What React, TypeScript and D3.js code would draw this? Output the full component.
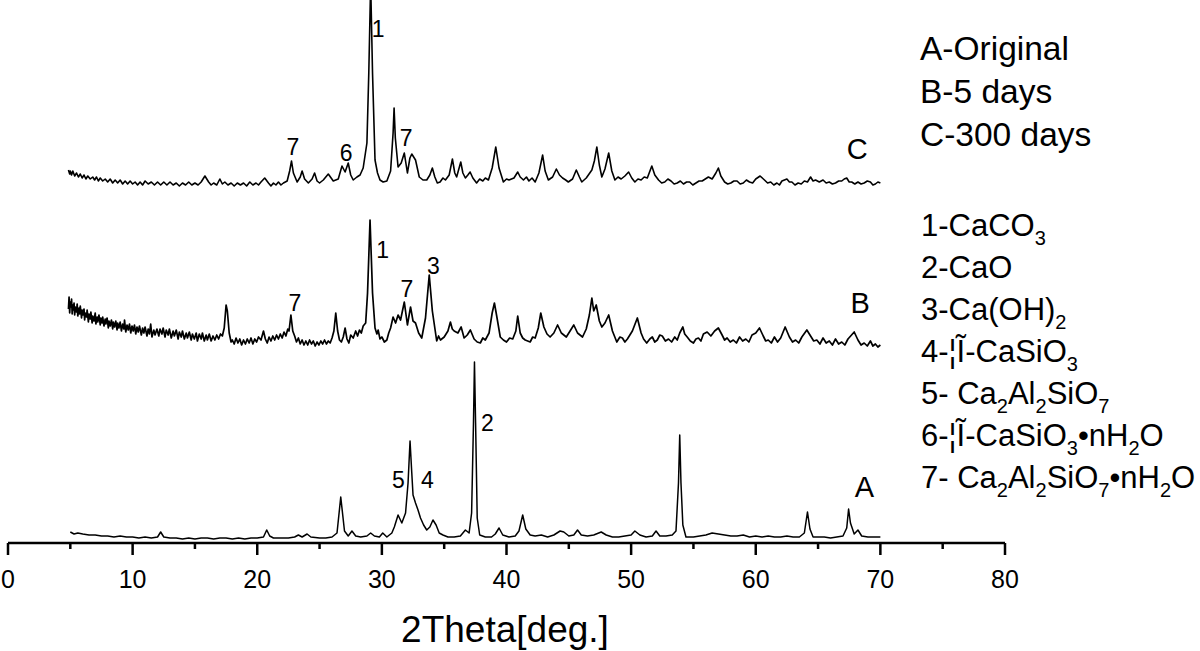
import React from 'react';
import * as d3 from 'd3';

// 2Theta (deg) vs intensity (a.u., stacked offsets already included)
const seriesA: [number, number][] = [
  [5.0, 11], [5.3, 9], [5.6, 10], [6.0, 9], [6.5, 8], [7.0, 8], [7.5, 7], [8.0, 7], [8.5, 6], [9.0, 7],
  [9.5, 6], [10.0, 6], [10.5, 5], [11.0, 6], [11.5, 5], [12.0, 6], [12.25, 11], [12.5, 6], [13.0, 5], [13.5, 5],
  [14, 4], [14.5, 5], [15, 4], [15.5, 5], [16, 5], [16.5, 4], [17, 5], [17.5, 5], [18, 4], [18.5, 5],
  [19, 4], [19.5, 5], [20.0, 5], [20.5, 6], [20.76, 13], [21.0, 7], [21.3, 5], [22, 5], [22.5, 5], [23.0, 6],
  [23.3, 8], [23.6, 6], [24.0, 9], [24.3, 6], [25, 5], [25.5, 5], [26.0, 6], [26.4, 10], [26.7, 46], [27.0, 12],
  [27.3, 7], [27.6, 12], [27.9, 7], [28.3, 6], [28.8, 7], [29.1, 10], [29.4, 7], [29.8, 6], [30.07, 10], [30.4, 6],
  [30.8, 10], [31.0, 16], [31.3, 28], [31.6, 20], [31.9, 30], [32.1, 60], [32.26, 102], [32.4, 70], [32.5, 48], [32.7, 40],
  [32.9, 33], [33.1, 25], [33.35, 18], [33.6, 13], [33.85, 16], [34.1, 23], [34.35, 18], [34.6, 10], [34.9, 8], [35.3, 6],
  [35.8, 6], [36.3, 7], [36.7, 13], [37.0, 10], [37.2, 30], [37.35, 120], [37.43, 181], [37.52, 120], [37.65, 25], [37.85, 8],
  [38.3, 6], [38.8, 6], [39.1, 9], [39.4, 15], [39.7, 8], [40.2, 6], [40.7, 7], [41.0, 12], [41.3, 28], [41.55, 14],
  [41.9, 8], [42.3, 7], [42.8, 8], [43.3, 6], [43.8, 8], [44.3, 12], [44.6, 11], [45.0, 7], [45.4, 8], [45.7, 13],
  [46.0, 8], [46.5, 7], [47.0, 8], [47.6, 11], [48.0, 8], [48.5, 6], [49.0, 6], [49.5, 7], [50.0, 8], [50.3, 12],
  [50.7, 8], [51.2, 6], [51.7, 7], [52.0, 12], [52.3, 7], [52.8, 7], [53.3, 8], [53.6, 12], [53.8, 60], [53.9, 108],
  [54.0, 60], [54.15, 18], [54.4, 6], [55.0, 6], [55.5, 7], [56.0, 8], [56.5, 10], [57.0, 9], [57.5, 8], [58.0, 7],
  [58.5, 7], [59.0, 8], [59.5, 6], [60.0, 7], [60.5, 6], [61.0, 7], [61.5, 6], [62.0, 6], [62.5, 7], [63.0, 6],
  [63.5, 6], [63.9, 10], [64.15, 31], [64.35, 14], [64.6, 6], [65.0, 6], [65.5, 6], [66.0, 5], [66.5, 6], [67.0, 7],
  [67.3, 15], [67.45, 34], [67.6, 20], [67.9, 9], [68.2, 13], [68.5, 7], [69.0, 6], [69.5, 6], [70.0, 6],
];

const seriesB: [number, number][] = [
  [4.85, 234], [4.9, 246], [4.95, 230], [5.0, 241], [5.05, 236], [5.1, 244], [5.15, 229], [5.2, 238], [5.25, 233], [5.3, 240],
  [5.35, 228], [5.4, 236], [5.5, 231], [5.55, 239], [5.6, 227], [5.7, 235], [5.75, 229], [5.8, 237], [5.9, 225], [5.95, 233],
  [6.0, 228], [6.1, 234], [6.15, 223], [6.2, 230], [6.3, 226], [6.35, 233], [6.45, 221], [6.5, 229], [6.6, 224], [6.65, 231],
  [6.75, 220], [6.8, 227], [6.9, 222], [7.0, 230], [7.05, 219], [7.15, 226], [7.2, 221], [7.3, 228], [7.4, 218], [7.45, 225],
  [7.55, 220], [7.6, 226], [7.7, 217], [7.8, 224], [7.85, 219], [7.95, 225], [8.05, 215], [8.1, 222], [8.2, 217], [8.3, 223],
  [8.4, 214], [8.45, 221], [8.55, 216], [8.65, 222], [8.75, 213], [8.8, 220], [8.9, 215], [9.0, 221], [9.1, 212], [9.2, 219],
  [9.3, 214], [9.35, 223], [9.45, 211], [9.55, 218], [9.65, 213], [9.75, 219], [9.85, 210], [9.95, 217], [10.05, 212], [10.15, 218],
  [10.25, 209], [10.35, 216], [10.45, 211], [10.55, 217], [10.7, 208], [10.8, 215], [10.9, 210], [11.0, 216], [11.15, 207], [11.25, 214],
  [11.35, 209], [11.45, 219], [11.55, 206], [11.7, 213], [11.8, 208], [11.95, 214], [12.1, 207], [12.2, 214], [12.35, 209], [12.45, 215],
  [12.6, 206], [12.7, 213], [12.85, 208], [12.95, 214], [13.1, 205], [13.25, 212], [13.35, 207], [13.5, 213], [13.65, 204], [13.75, 211],
  [13.9, 206], [14.0, 212], [14.15, 204], [14.3, 210], [14.4, 205], [14.55, 211], [14.7, 203], [14.8, 209], [14.95, 204], [15.1, 210],
  [15.2, 202], [15.35, 209], [15.5, 204], [15.6, 210], [15.75, 202], [15.9, 208], [16.0, 203], [16.15, 209], [16.3, 202], [16.45, 207],
  [16.6, 203], [16.75, 208], [16.9, 204], [17.05, 209], [17.2, 207], [17.35, 215], [17.5, 238], [17.6, 232], [17.75, 210], [17.9, 201],
  [18.0, 203], [18.15, 199], [18.3, 205], [18.45, 200], [18.6, 204], [18.75, 198], [18.9, 203], [19.05, 199], [19.2, 204], [19.35, 200],
  [19.5, 205], [19.65, 199], [19.8, 204], [19.95, 201], [20.1, 206], [20.3, 203], [20.5, 212], [20.65, 204], [20.8, 200], [20.95, 206],
  [21.1, 202], [21.25, 207], [21.4, 203], [21.55, 208], [21.7, 204], [21.85, 209], [22.0, 205], [22.15, 211], [22.3, 207], [22.45, 214],
  [22.55, 212], [22.7, 228], [22.85, 212], [23.0, 207], [23.15, 201], [23.3, 205], [23.45, 199], [23.6, 203], [23.75, 198], [23.9, 202],
  [24.05, 198], [24.2, 203], [24.35, 199], [24.5, 202], [24.65, 197], [24.8, 201], [24.95, 198], [25.1, 202], [25.25, 199], [25.4, 203],
  [25.55, 199], [25.7, 202], [25.85, 200], [26.0, 205], [26.15, 212], [26.3, 230], [26.45, 212], [26.6, 203], [26.75, 201], [26.9, 206],
  [27.05, 215], [27.2, 204], [27.35, 200], [27.5, 208], [27.7, 205], [27.9, 212], [28.05, 207], [28.2, 213], [28.35, 210], [28.5, 217],
  [28.7, 220], [28.85, 250], [29.05, 323], [29.25, 250], [29.45, 215], [29.6, 209], [29.7, 213], [29.85, 204], [30.0, 206], [30.2, 201],
  [30.4, 203], [30.55, 210], [30.7, 215], [30.9, 226], [31.1, 220], [31.3, 228], [31.5, 223], [31.8, 241], [32.05, 218], [32.3, 236],
  [32.5, 222], [32.7, 220], [32.95, 210], [33.2, 205], [33.5, 225], [33.8, 268], [34.05, 232], [34.4, 202], [34.55, 207], [34.7, 203],
  [35.0, 206], [35.3, 212], [35.5, 221], [35.65, 214], [35.8, 212], [36.1, 210], [36.36, 216], [36.6, 205], [36.85, 208], [37.1, 213],
  [37.4, 204], [37.65, 201], [37.9, 200], [38.1, 205], [38.3, 203], [38.6, 210], [38.85, 230], [39.03, 240], [39.2, 228], [39.5, 206],
  [39.75, 203], [40.0, 201], [40.25, 205], [40.5, 204], [40.75, 212], [40.9, 227], [41.1, 210], [41.3, 205], [41.5, 203], [41.9, 201],
  [42.1, 206], [42.3, 205], [42.55, 215], [42.75, 230], [43.0, 216], [43.25, 209], [43.5, 206], [43.8, 210], [44.1, 218], [44.4, 210],
  [44.8, 206], [45.1, 212], [45.4, 218], [45.7, 210], [46.1, 206], [46.4, 214], [46.65, 228], [46.85, 245], [47.0, 232], [47.2, 238],
  [47.45, 222], [47.65, 216], [47.9, 220], [48.2, 228], [48.5, 212], [48.85, 201], [49.1, 206], [49.3, 205], [49.5, 201], [49.7, 204],
  [50.1, 212], [50.5, 225], [50.8, 210], [51.0, 204], [51.25, 200], [51.5, 204], [51.7, 206], [51.9, 201], [52.1, 203], [52.3, 208],
  [52.5, 207], [52.75, 202], [53.0, 204], [53.25, 201], [53.5, 206], [53.7, 203], [53.9, 210], [54.15, 216], [54.3, 209], [54.5, 206],
  [54.75, 202], [55.0, 200], [55.2, 204], [55.4, 205], [55.6, 202], [55.8, 209], [56.1, 211], [56.4, 207], [56.7, 212], [57.0, 215],
  [57.3, 208], [57.5, 203], [57.7, 205], [57.95, 201], [58.2, 203], [58.45, 200], [58.7, 206], [58.95, 202], [59.2, 204], [59.45, 201],
  [59.7, 208], [60.0, 210], [60.3, 215], [60.6, 207], [60.8, 202], [61.0, 203], [61.25, 200], [61.5, 206], [61.75, 201], [62.0, 205],
  [62.36, 216], [62.7, 206], [62.95, 201], [63.2, 203], [63.45, 200], [63.7, 206], [64.1, 213], [64.4, 207], [64.65, 202], [64.9, 203],
  [65.15, 199], [65.4, 205], [65.65, 200], [65.9, 202], [66.15, 198], [66.4, 204], [66.65, 199], [66.9, 201], [67.15, 198], [67.4, 204],
  [67.9, 211], [68.2, 203], [68.45, 198], [68.7, 200], [68.95, 197], [69.2, 202], [69.4, 197], [69.6, 199], [69.8, 196], [70.0, 198],
];

const seriesC: [number, number][] = [
  [4.85, 373], [4.95, 369], [5.0, 372], [5.1, 368], [5.2, 372], [5.35, 367], [5.5, 370], [5.65, 366], [5.8, 369], [5.95, 365],
  [6.1, 368], [6.25, 364], [6.4, 367], [6.6, 364], [6.8, 366], [6.95, 363], [7.1, 366], [7.25, 362], [7.4, 365], [7.6, 362],
  [7.8, 364], [8.0, 361], [8.2, 364], [8.4, 360], [8.6, 363], [8.8, 360], [9.0, 363], [9.2, 359], [9.4, 362], [9.6, 359],
  [9.8, 362], [10.0, 359], [10.2, 361], [10.4, 358], [10.6, 361], [10.8, 358], [11.0, 362], [11.25, 359], [11.5, 361], [11.75, 358],
  [12.0, 361], [12.25, 358], [12.5, 361], [12.75, 358], [13.0, 361], [13.25, 358], [13.5, 360], [13.75, 357], [14.0, 360], [14.25, 358],
  [14.5, 361], [14.75, 358], [15.0, 360], [15.25, 358], [15.5, 361], [15.8, 367], [16.1, 361], [16.3, 358], [16.5, 360], [16.75, 358],
  [17.0, 364], [17.2, 359], [17.4, 361], [17.65, 358], [17.9, 360], [18.15, 357], [18.4, 360], [18.65, 358], [18.9, 360], [19.15, 357],
  [19.4, 361], [19.65, 358], [19.9, 360], [20.1, 358], [20.3, 361], [20.6, 365], [20.9, 360], [21.1, 357], [21.3, 360], [21.5, 358],
  [21.7, 361], [21.9, 358], [22.1, 360], [22.4, 362], [22.6, 372], [22.75, 382], [22.9, 370], [23.2, 361], [23.45, 366], [23.6, 372],
  [23.8, 364], [24.1, 360], [24.4, 364], [24.6, 370], [24.8, 362], [25.0, 360], [25.3, 363], [25.7, 369], [26.1, 362], [26.5, 364],
  [26.8, 377], [27.05, 371], [27.3, 380], [27.5, 368], [27.7, 363], [28.0, 366], [28.25, 368], [28.5, 375], [28.8, 400], [28.95, 470],
  [29.1, 560], [29.25, 470], [29.45, 383], [29.65, 370], [29.85, 363], [30.1, 361], [30.4, 362], [30.7, 372], [30.9, 410], [30.98, 435],
  [31.08, 405], [31.3, 376], [31.55, 380], [31.8, 390], [32.05, 370], [32.25, 385], [32.4, 389], [32.7, 383], [33.0, 366], [33.3, 363],
  [33.6, 363], [33.85, 368], [34.05, 375], [34.25, 366], [34.45, 360], [34.67, 361], [34.9, 365], [35.1, 363], [35.4, 368], [35.66, 384],
  [35.85, 370], [36.0, 366], [36.33, 381], [36.5, 370], [36.7, 365], [36.9, 368], [37.08, 371], [37.3, 365], [37.6, 360], [37.85, 364],
  [38.1, 362], [38.3, 365], [38.55, 363], [38.85, 375], [39.14, 396], [39.4, 375], [39.75, 361], [40.0, 364], [40.2, 363], [40.6, 365],
  [40.9, 371], [41.1, 366], [41.36, 363], [41.6, 366], [41.8, 362], [42.05, 365], [42.3, 361], [42.6, 370], [42.9, 388], [43.1, 372],
  [43.36, 363], [43.7, 366], [44.0, 374], [44.25, 368], [44.5, 365], [44.75, 363], [44.96, 361], [45.3, 364], [45.6, 373], [45.85, 366],
  [46.04, 361], [46.4, 365], [46.85, 373], [47.05, 382], [47.25, 396], [47.45, 378], [47.65, 366], [47.9, 374], [48.2, 390], [48.45, 372],
  [48.7, 363], [48.95, 366], [49.2, 364], [49.5, 367], [49.8, 371], [50.05, 365], [50.3, 361], [50.55, 364], [50.8, 363], [51.05, 366],
  [51.3, 365], [51.66, 377], [51.9, 368], [52.2, 363], [52.45, 360], [52.7, 361], [52.95, 364], [53.2, 362], [53.45, 359], [53.7, 360],
  [53.95, 362], [54.2, 359], [54.45, 361], [54.7, 361], [54.95, 358], [55.2, 360], [55.45, 362], [55.7, 362], [55.95, 364], [56.2, 366],
  [56.5, 364], [56.8, 370], [57.0, 375], [57.2, 367], [57.5, 361], [57.75, 359], [58.0, 360], [58.25, 362], [58.5, 362], [58.75, 359],
  [59.0, 360], [59.25, 363], [59.5, 361], [59.75, 360], [60.0, 364], [60.35, 367], [60.7, 363], [60.95, 360], [61.2, 361], [61.45, 358],
  [61.7, 360], [61.9, 358], [62.1, 362], [62.5, 364], [62.7, 361], [62.9, 361], [63.15, 358], [63.4, 360], [63.65, 359], [63.9, 362],
  [64.15, 361], [64.4, 366], [64.6, 362], [64.8, 363], [65.1, 361], [65.4, 363], [65.65, 360], [65.9, 361], [66.15, 359], [66.4, 360],
  [66.65, 362], [66.9, 362], [67.1, 364], [67.3, 365], [67.5, 361], [67.7, 361], [67.95, 359], [68.2, 361], [68.45, 359], [68.7, 360],
  [68.95, 362], [69.2, 361], [69.4, 358], [69.6, 359], [69.8, 361], [70.0, 360],
];

// peak markers: [label, 2theta, intensity]
const peakLabels: [string, number, number][] = [
  ['7', 22.87, 396], ['6', 27.13, 390], ['1', 29.7, 514], ['7', 31.94, 405],
  ['7', 23.03, 240], ['1', 30.07, 293], ['7', 32.0, 254], ['3', 34.13, 277],
  ['5', 31.32, 63], ['4', 33.65, 63], ['2', 38.47, 120],
];
const curveNames: [string, number, number][] = [
  ['C', 68.14, 394], ['B', 68.38, 240], ['A', 68.72, 56],
];

const sampleLegend = ['A-Original', 'B-5 days', 'C-300 days'];
// phase legend: text parts, subscripts marked with sub
const phaseLegend: { t: string; sub?: boolean }[][] = [
  [{ t: '1-CaCO' }, { t: '3', sub: true }],
  [{ t: '2-CaO' }],
  [{ t: '3-Ca(OH)' }, { t: '2', sub: true }],
  [{ t: '4-¦Ĩ-CaSiO' }, { t: '3', sub: true }],
  [{ t: '5- Ca' }, { t: '2', sub: true }, { t: 'Al' }, { t: '2', sub: true }, { t: 'SiO' }, { t: '7', sub: true }],
  [{ t: '6-¦Ĩ-CaSiO' }, { t: '3', sub: true }, { t: '•nH' }, { t: '2', sub: true }, { t: 'O' }],
  [{ t: '7- Ca' }, { t: '2', sub: true }, { t: 'Al' }, { t: '2', sub: true }, { t: 'SiO' }, { t: '7', sub: true }, { t: '•nH' }, { t: '2', sub: true }, { t: 'O' }],
];
const phaseBaselines = [236, 278, 320, 362, 404, 446, 488];
const sampleBaselines = [60, 103, 146];

const xTicks = [0, 10, 20, 30, 40, 50, 60, 70, 80];
const xMinorTicks = [5, 15, 25, 35, 45, 55, 65, 75];

const W = 1200;
const H = 651;
const FONT = "'Liberation Sans', Arial, Helvetica, sans-serif";

export default function App() {
  const x = d3.scaleLinear().domain([0, 80]).range([8, 1005]);
  const y = d3.scaleLinear().domain([0, 540]).range([543, 3]);
  const line = d3.line<[number, number]>().x(d => x(d[0])).y(d => y(d[1]));
  const axisY = y(0);

  return (
    <svg width={W} height={H} style={{ position: 'absolute', left: 0, top: 0, background: '#fff' }} fontFamily={FONT}>
      <defs>
        <clipPath id="plotclip"><rect x={0} y={0} width={W} height={axisY} /></clipPath>
      </defs>
      <g clipPath="url(#plotclip)" fill="none" stroke="#000" strokeLinejoin="round">
        <path d={line(seriesA) || ''} strokeWidth={1.5} />
        <path d={line(seriesB) || ''} strokeWidth={1.7} />
        <path d={line(seriesC) || ''} strokeWidth={1.6} />
      </g>

      {/* x axis */}
      <g stroke="#000">
        <line x1={x(0)} x2={x(80)} y1={axisY} y2={axisY} strokeWidth={2.5} />
        {xTicks.map(t => (
          <line key={t} x1={x(t)} x2={x(t)} y1={axisY} y2={axisY + 12} strokeWidth={2.5} />
        ))}
        {xMinorTicks.map(t => (
          <line key={t} x1={x(t)} x2={x(t)} y1={axisY} y2={axisY + 6} strokeWidth={2.5} />
        ))}
      </g>
      {xTicks.map(t => (
        <text key={t} x={x(t)} y={588} textAnchor="middle" fontSize={25}>{t}</text>
      ))}
      <text x={505} y={642} textAnchor="middle" fontSize={37}>2Theta[deg.]</text>

      {peakLabels.map(([lbl, tx, v], i) => (
        <text key={i} x={x(tx)} y={y(v)} textAnchor="middle" dominantBaseline="central" fontSize={23}>{lbl}</text>
      ))}
      {curveNames.map(([lbl, tx, v]) => (
        <text key={lbl} x={x(tx)} y={y(v)} textAnchor="middle" dominantBaseline="central" fontSize={29}>{lbl}</text>
      ))}

      {sampleLegend.map((s, i) => (
        <text key={s} x={920} y={sampleBaselines[i]} fontSize={33.5}>{s}</text>
      ))}
      {phaseLegend.map((parts, i) => (
        <text key={i} x={921} y={phaseBaselines[i]} fontSize={31}>
          {parts.map((p, j) => p.sub
            ? <tspan key={j} fontSize={20} dy={9}>{p.t}</tspan>
            : <tspan key={j} dy={j > 0 && parts[j - 1].sub ? -9 : 0}>{p.t}</tspan>)}
        </text>
      ))}
    </svg>
  );
}
